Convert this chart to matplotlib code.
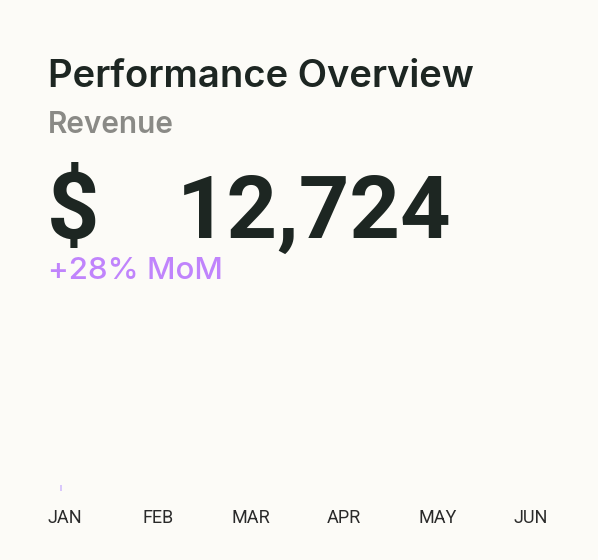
import matplotlib
matplotlib.use("Agg")
import matplotlib.pyplot as plt

# ---- data ----
months = ["JAN", "FEB", "MAR", "APR", "MAY", "JUN"]
revenue_bars = [3, 0, 0, 0, 0, 0]   # bars at the captured (start) state
title = "Performance Overview"
subtitle = "Revenue"
currency = "$"
total_value = "12,724"
change_label = "+28% MoM"

BG = "#FCFBF7"
DARK = "#1D2622"
GRAY = "#8A8A86"
PURPLE = "#C084FC"
BAR = "#D9C8FB"

W, H = 598, 560
fig = plt.figure(figsize=(W / 100, H / 100), dpi=100, facecolor=BG)

def px(x, y):
    return x / W, 1 - y / H

fig.text(*px(48, 87), title, fontsize=27.5, fontfamily="Inter", fontweight="semibold",
         color=DARK, va="baseline", ha="left")
fig.text(*px(48, 133), subtitle, fontsize=21.4, fontfamily="Inter", fontweight="semibold",
         color=GRAY, va="baseline", ha="left")
fig.text(*px(47, 238), currency, fontsize=66, fontfamily="Roboto", fontweight="bold",
         color=DARK, va="baseline", ha="left")
fig.text(*px(177, 238), total_value, fontsize=63.5, fontfamily="Roboto", fontweight="bold",
         color=DARK, va="baseline", ha="left")
fig.text(*px(48, 279), change_label, fontsize=22.5, fontfamily="Inter", fontweight="medium",
         color=PURPLE, va="baseline", ha="left")

# axes: left 18px, right 577px, top 300px, bottom 491px
l, r, t, b = 18, 577, 300, 491
ax = fig.add_axes([l / W, 1 - b / H, (r - l) / W, (b - t) / H])
ax.set_facecolor(BG)
x = list(range(len(months)))
ax.bar([i - 0.035 for i in x], revenue_bars, width=0.02, color=BAR, align="center")
ax.set_xlim(-0.5, len(months) - 0.5)
ax.set_ylim(0, 100)
for s in ax.spines.values():
    s.set_visible(False)
ax.set_yticks([])
ax.set_xticks(x)
ax.set_xticklabels(months, fontfamily="Roboto", fontweight="normal", fontsize=13, color="#2A2A2A")
ax.tick_params(axis="x", length=0, pad=13)

fig.savefig("out.png", dpi=100, facecolor=BG)
